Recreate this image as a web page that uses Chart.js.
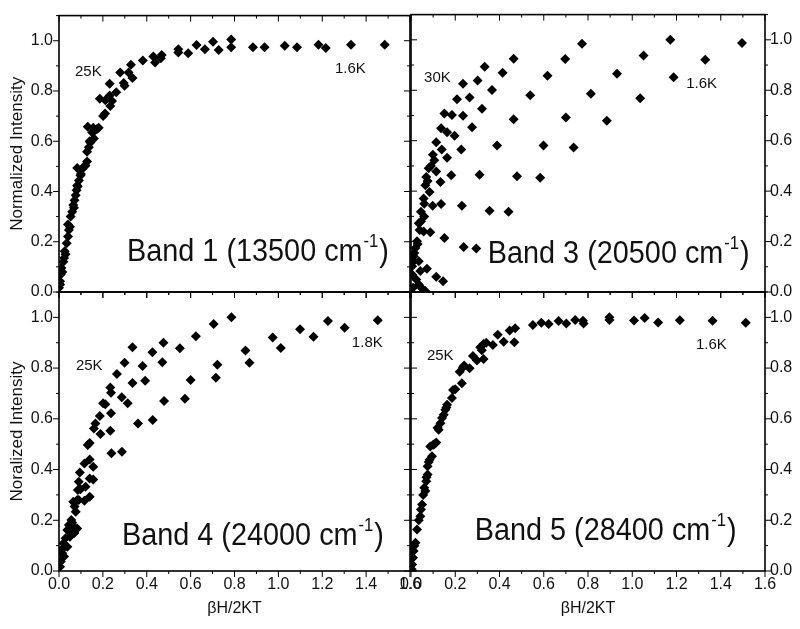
<!DOCTYPE html>
<html>
<head>
<meta charset="utf-8">
<script src="https://cdn.jsdelivr.net/npm/chart.js@4.4.0/dist/chart.umd.min.js"></script>
<style>
    html, body { margin: 0; padding: 0; background: #fff; }
    #wrap { position: relative; width: 800px; height: 629px; }
    #wrap canvas { position: absolute; left: 0; top: 0; }
</style>
</head>
<body>
<div id="wrap">
    <canvas id="band1" width="800" height="629"></canvas>
    <canvas id="band3" width="800" height="629"></canvas>
    <canvas id="band4" width="800" height="629"></canvas>
    <canvas id="band5" width="800" height="629"></canvas>
</div>
<script>
// Band 1 (13500 cm-1)
const band1X = [0.0, 0.005, 0.005, 0.008, 0.011, 0.015, 0.02, 0.023, 0.026, 0.03, 0.035, 0.041, 0.045, 0.041, 0.05, 0.053,
    0.06, 0.065, 0.068, 0.071, 0.076, 0.08, 0.083, 0.085, 0.091, 0.098, 0.083, 0.1, 0.106, 0.115, 0.121, 0.128, 0.128,
    0.136, 0.14, 0.143, 0.159, 0.151, 0.131, 0.156, 0.165, 0.172, 0.181, 0.201, 0.21, 0.186, 0.211, 0.242, 0.234, 0.231,
    0.231, 0.261, 0.299, 0.295, 0.279, 0.317, 0.335, 0.328, 0.382, 0.438, 0.43, 0.464, 0.468, 0.544, 0.544, 0.589, 0.627,
    0.665, 0.702, 0.728, 0.785, 0.785, 0.884, 0.937, 1.029, 1.085, 1.183, 1.216, 1.331, 1.485];
const band1Y = [0.017, 0.03, 0.043, 0.07, 0.096, 0.08, 0.12, 0.135, 0.162, 0.15, 0.194, 0.221, 0.247, 0.269, 0.26, 0.3,
    0.319, 0.346, 0.335, 0.365, 0.385, 0.405, 0.424, 0.42, 0.444, 0.464, 0.493, 0.47, 0.49, 0.5, 0.503, 0.519, 0.558,
    0.576, 0.6, 0.595, 0.611, 0.635, 0.658, 0.654, 0.645, 0.648, 0.654, 0.7, 0.71, 0.769, 0.763, 0.76, 0.74, 0.782,
    0.829, 0.795, 0.821, 0.832, 0.874, 0.874, 0.852, 0.904, 0.921, 0.913, 0.937, 0.93, 0.943, 0.953, 0.966, 0.95, 0.983,
    0.966, 0.996, 0.963, 0.974, 1.005, 0.974, 0.974, 0.98, 0.974, 0.984, 0.971, 0.984, 0.984];

// Band 3 (20500 cm-1)
const band3X = [0.773, 0.697, 0.464, 0.333, 0.414, 0.617, 0.301, 0.235, 0.366, 0.539, 0.813, 0.208, 0.265, 0.321, 0.151,
    0.185, 0.235, 0.464, 0.7, 0.276, 0.136, 0.163, 0.197, 0.114, 0.139, 0.227, 0.389, 0.599, 0.735, 0.099, 0.163, 0.105,
    0.08, 0.114, 0.182, 0.31, 0.479, 0.584, 0.069, 0.133, 0.065, 0.084, 0.057, 0.098, 0.136, 0.23, 0.355, 0.441, 0.045,
    0.06, 0.035, 0.039, 0.087, 0.057, 0.151, 0.027, 0.02, 0.238, 0.295, 0.012, 0.035, 0.005, 0.072, 0.005, 0.024, 0.114,
    0.145, 0.035, 0.05, 0.065, 0.009, 0.042, 0.03, 0.045, 0.06, 0.075, 0.09, 0.01, 0.015,
    1.172, 1.496, 1.051, 1.33, 0.931, 1.187, 1.036, 0.885];
const band3Y = [0.984, 0.924, 0.925, 0.893, 0.869, 0.858, 0.839, 0.826, 0.801, 0.78, 0.786, 0.764, 0.771, 0.727, 0.708,
    0.702, 0.699, 0.685, 0.692, 0.653, 0.649, 0.633, 0.62, 0.594, 0.565, 0.565, 0.581, 0.581, 0.573, 0.544, 0.532, 0.522,
    0.491, 0.478, 0.463, 0.465, 0.459, 0.453, 0.456, 0.436, 0.423, 0.397, 0.371, 0.342, 0.349, 0.342, 0.322, 0.318, 0.318,
    0.299, 0.273, 0.246, 0.237, 0.24, 0.214, 0.201, 0.174, 0.178, 0.172, 0.142, 0.122, 0.102, 0.092, 0.069, 0.05, 0.06,
    0.043, 0.03, 0.014, 0.004, 0.017, 0.083, 0.19, 0.28, 0.35, 0.44, 0.5, 0.12, 0.155,
    1.0, 0.987, 0.938, 0.921, 0.865, 0.852, 0.768, 0.679];

// Band 4 (24000 cm-1)
const band4X = [0.786, 0.705, 0.624, 0.476, 0.551, 0.335, 0.426, 0.299, 0.471, 0.722, 0.381, 0.264, 0.335, 0.393, 0.6,
    0.715, 0.234, 0.237, 0.286, 0.313, 0.479, 0.574, 0.201, 0.211, 0.186, 0.237, 0.166, 0.159, 0.189, 0.234, 0.36, 0.427,
    0.239, 0.287, 0.131, 0.14, 0.14, 0.116, 0.156, 0.095, 0.09, 0.121, 0.098, 0.14, 0.116, 0.086, 0.065, 0.083, 0.071,
    0.076, 0.056, 0.045, 0.083, 0.065, 0.038, 0.03, 0.05, 0.02, 0.038, 0.011, 0.023, 0.008, 0.005, 0.015, 0.14, 0.156,
    0.09, 0.06, 0.07, 0.07,
    0.85, 0.868, 0.974, 1.011, 1.099, 1.16, 1.226, 1.302, 1.453];
const band4Y = [1.0, 0.974, 0.926, 0.9, 0.878, 0.882, 0.862, 0.821, 0.823, 0.813, 0.808, 0.777, 0.741, 0.75, 0.753,
    0.762, 0.723, 0.703, 0.685, 0.661, 0.67, 0.679, 0.661, 0.657, 0.611, 0.622, 0.582, 0.562, 0.54, 0.553, 0.582, 0.595,
    0.464, 0.47, 0.497, 0.505, 0.44, 0.424, 0.411, 0.388, 0.352, 0.332, 0.322, 0.293, 0.277, 0.319, 0.273, 0.28, 0.254,
    0.234, 0.201, 0.181, 0.168, 0.155, 0.162, 0.129, 0.135, 0.109, 0.096, 0.083, 0.057, 0.037, 0.017, 0.07, 0.365, 0.361,
    0.28, 0.19, 0.15, 0.17,
    0.869, 0.821, 0.921, 0.879, 0.953, 0.924, 0.986, 0.959, 0.989];

// Band 5 (28400 cm-1)
const band5X = [0.777, 0.78, 0.742, 0.702, 0.667, 0.622, 0.589, 0.551, 0.471, 0.446, 0.467, 0.419, 0.392, 0.37, 0.328,
    0.313, 0.328, 0.298, 0.28, 0.265, 0.235, 0.22, 0.23, 0.2, 0.19, 0.185, 0.163, 0.155, 0.148, 0.14, 0.133, 0.125, 0.114,
    0.1, 0.087, 0.095, 0.084, 0.075, 0.075, 0.069, 0.06, 0.065, 0.05, 0.045, 0.042, 0.027, 0.02, 0.012, 0.009, 0.005,
    0.003, 0.32, 0.34, 0.24, 0.16, 0.12, 0.105, 0.08, 0.07, 0.055, 0.035, 0.015,
    0.897, 0.897, 1.008, 1.056, 1.117, 1.215, 1.363, 1.513];
const band5Y = [0.987, 0.976, 0.99, 0.976, 0.986, 0.974, 0.979, 0.97, 0.957, 0.948, 0.902, 0.904, 0.931, 0.891, 0.895,
    0.882, 0.836, 0.83, 0.848, 0.799, 0.803, 0.786, 0.74, 0.717, 0.714, 0.682, 0.655, 0.636, 0.616, 0.603, 0.583, 0.557,
    0.507, 0.498, 0.491, 0.452, 0.439, 0.413, 0.38, 0.354, 0.328, 0.315, 0.262, 0.242, 0.216, 0.164, 0.111, 0.079, 0.052,
    0.026, 0.007, 0.87, 0.9, 0.81, 0.645, 0.565, 0.5, 0.43, 0.37, 0.3, 0.2, 0.1,
    1.0, 0.99, 0.988, 0.997, 0.98, 0.989, 0.987, 0.979];

const xRange = [0, 1.6];
const yRange = [0, 1.1];
const tickStep = 0.1;

const FONT = '"Liberation Sans", Arial, sans-serif';
const isMajor = v => Math.round(v * 10) % 2 === 0;

// frame, inward/outward ticks and the text notes inside each panel
const framePlugin = {
    id: 'frame',
    afterDraw(chart, args, opts) {
        const { ctx, chartArea: a } = chart;
        const xs = chart.scales.x, ys = chart.scales.y;
        const seg = (x1, y1, x2, y2) => { ctx.beginPath(); ctx.moveTo(x1, y1); ctx.lineTo(x2, y2); ctx.stroke(); };
        ctx.save();
        ctx.strokeStyle = '#000';
        ctx.lineWidth = 1;
        xs.ticks.forEach(t => {
            const px = xs.getPixelForValue(t.value);
            const len = isMajor(t.value) ? 6 : 3;
            seg(px, a.bottom, px, a.bottom + len);
            seg(px, a.top, px, a.top + len);
        });
        ys.ticks.forEach(t => {
            const py = ys.getPixelForValue(t.value);
            const len = isMajor(t.value) ? 6 : 3;
            if (opts.side === 'left') {
                seg(a.left - len, py, a.left, py);
                seg(a.right - len, py, a.right, py);
            } else {
                seg(a.right, py, a.right + len, py);
                seg(a.left, py, a.left + len, py);
            }
        });
        ctx.lineWidth = 1.6;
        ctx.strokeRect(a.left, a.top, a.right - a.left, a.bottom - a.top);

        ctx.fillStyle = '#111';
        ctx.textAlign = 'left';
        ctx.textBaseline = 'middle';
        ctx.font = '15px ' + FONT;
        opts.notes.forEach(n => {
            ctx.fillText(n.text, xs.getPixelForValue(n.x), ys.getPixelForValue(n.y));
        });

        // large band label, slightly narrowed like the original
        const b = opts.band;
        ctx.translate(xs.getPixelForValue(b.x), ys.getPixelForValue(b.y));
        ctx.scale(0.93, 1);
        ctx.textBaseline = 'alphabetic';
        let px = 0;
        ctx.font = '31px ' + FONT;
        ctx.fillText(b.text, px, 0);
        px += ctx.measureText(b.text).width + 1;
        ctx.font = '18px ' + FONT;
        ctx.fillText('-1', px, -14);
        px += ctx.measureText('-1').width + 1;
        ctx.font = '31px ' + FONT;
        ctx.fillText(')', px, 0);
        ctx.restore();
    }
};

function makePanel(id, xs, ys, cfg) {
    const left = cfg.side === 'left';
    const bottom = cfg.showX;
    const yW = left ? 55 : 35;
    const xH = bottom ? 51 : 0;
    const area = cfg.area;
    new Chart(document.getElementById(id), {
        type: 'scatter',
        data: {
            datasets: [{
                data: xs.map((x, i) => ({ x: x, y: ys[i] })),
                pointStyle: 'rectRot',
                pointRadius: 5,
                pointHoverRadius: 5,
                backgroundColor: '#000',
                borderColor: '#000',
                borderWidth: 0
            }]
        },
        options: {
            responsive: false,
            animation: false,
            events: [],
            layout: {
                padding: {
                    left: left ? area.left - yW : area.left,
                    right: left ? 800 - area.right : 800 - area.right - yW,
                    top: area.top,
                    bottom: 629 - area.bottom - xH
                }
            },
            plugins: {
                legend: { display: false },
                tooltip: { enabled: false },
                frame: { side: cfg.side, notes: cfg.notes, band: cfg.band }
            },
            scales: {
                x: {
                    type: 'linear',
                    min: xRange[0],
                    max: xRange[1],
                    grid: { display: false, drawTicks: false },
                    border: { display: false },
                    afterFit: s => { s.height = xH; },
                    ticks: {
                        display: bottom,
                        stepSize: tickStep,
                        autoSkip: false,
                        maxRotation: 0,
                        padding: 4,
                        color: '#111',
                        font: { family: FONT, size: 16 },
                        callback: v => isMajor(v) ? v.toFixed(1) : ''
                    },
                    title: {
                        display: bottom,
                        text: 'βH/2KT',
                        color: '#111',
                        padding: { top: 0, bottom: 4 },
                        font: { family: FONT, size: 16 }
                    }
                },
                y: {
                    type: 'linear',
                    position: cfg.side,
                    min: yRange[0],
                    max: yRange[1],
                    grid: { display: false, drawTicks: false },
                    border: { display: false },
                    afterFit: s => { s.width = yW; },
                    ticks: {
                        stepSize: tickStep,
                        autoSkip: false,
                        padding: left ? 6 : 5,
                        color: '#111',
                        font: { family: FONT, size: 16 },
                        callback: v => isMajor(v) ? v.toFixed(1) : ''
                    },
                    title: {
                        display: !!cfg.yTitle,
                        text: cfg.yTitle || '',
                        color: '#111',
                        padding: { top: 3, bottom: 0 },
                        font: { family: FONT, size: 17 }
                    }
                }
            }
        },
        plugins: [framePlugin]
    });
}

makePanel('band1', band1X, band1Y, {
    side: 'left', showX: false, yTitle: 'Normalized Intensity',
    area: { left: 59, right: 410, top: 12, bottom: 292 },
    notes: [{ text: '25K', x: 0.073, y: 0.878 }, { text: '1.6K', x: 1.258, y: 0.89 }],
    band: { text: 'Band 1 (13500 cm', x: 0.31, y: 0.122 }
});
makePanel('band3', band3X, band3Y, {
    side: 'right', showX: false,
    area: { left: 411, right: 765, top: 12, bottom: 292 },
    notes: [{ text: '30K', x: 0.059, y: 0.851 }, { text: '1.6K', x: 1.244, y: 0.827 }],
    band: { text: 'Band 3 (20500 cm', x: 0.347, y: 0.114 }
});
makePanel('band4', band4X, band4Y, {
    side: 'left', showX: true, yTitle: 'Noralized Intensity',
    area: { left: 59, right: 410, top: 292, bottom: 571 },
    notes: [{ text: '25K', x: 0.077, y: 0.807 }, { text: '1.8K', x: 1.335, y: 0.898 }],
    band: { text: 'Band 4 (24000 cm', x: 0.287, y: 0.102 }
});
makePanel('band5', band5X, band5Y, {
    side: 'right', showX: true,
    area: { left: 411, right: 765, top: 292, bottom: 571 },
    notes: [{ text: '25K', x: 0.072, y: 0.85 }, { text: '1.6K', x: 1.288, y: 0.89 }],
    band: { text: 'Band 5 (28400 cm', x: 0.288, y: 0.122 }
});
</script>
</body>
</html>
